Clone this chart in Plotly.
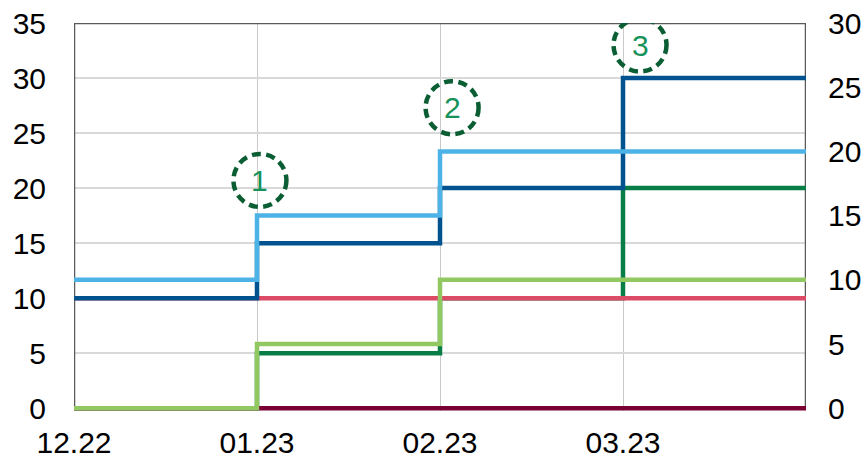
import plotly.graph_objects as go

# ---- data ----
month_labels = ["12.22", "01.23", "02.23", "03.23"]
x_idx = [0, 1, 2, 3, 4]          # month positions (last = end of last step)

red_line = [10, 10, 10, 10, 10]          # left axis
maroon_line = [0, 0, 0, 0, 0]            # left axis
dark_blue = [10, 15, 20, 30, 30]         # left axis
dark_green = [0, 5, 10, 20, 20]          # left axis
light_blue = [10, 15, 20, 20, 20]        # right axis
light_green = [0, 5, 10, 10, 10]         # right axis

left_ticks = [0, 5, 10, 15, 20, 25, 30, 35]
right_ticks = [0, 5, 10, 15, 20, 25, 30]

markers = ["1", "2", "3"]
marker_x = [1.016, 2.066, 3.093]
marker_y = [20.7, 27.3, 33.0]

# ---- styles ----
C_RED = "#dc4b66"
C_MAROON = "#7a0033"
C_DBLUE = "#00538f"
C_LBLUE = "#4db2e6"
C_DGREEN = "#087d46"
C_LGREEN = "#92c862"
FONT = "Liberation Sans, Arial, sans-serif"
LW = 4.5
FS = 30

fig = go.Figure()

def add(y, color, axis="y"):
    fig.add_trace(go.Scatter(x=x_idx, y=y, mode="lines", line=dict(color=color, width=LW, shape="hv"),
                             yaxis=axis, showlegend=False, hoverinfo="skip"))

add(dark_green, C_DGREEN)
add(red_line, C_RED)
add(dark_blue, C_DBLUE)
add(maroon_line, C_MAROON)
add(light_blue, C_LBLUE, "y2")
add(light_green, C_LGREEN, "y2")

ymin = -0.25
fig.update_layout(
    width=864, height=455,
    margin=dict(l=74, r=58, t=23, b=44),
    paper_bgcolor="white", plot_bgcolor="white",
    font=dict(family=FONT, size=FS, color="#000000"),
    xaxis=dict(range=[0, 4], tickvals=[0, 1, 2, 3], ticktext=month_labels, automargin=False,
               showgrid=True, gridcolor="#c9c9c9", gridwidth=1, zeroline=False,
               showline=False, ticks="outside", ticklen=5, tickcolor="rgba(0,0,0,0)",
               tickfont=dict(size=FS), ticklabeloverflow="allow"),
    yaxis=dict(range=[ymin, 35], tickvals=left_ticks, showgrid=True, gridcolor="#d9d9d9",
               gridwidth=1.5, zeroline=False, showline=False, automargin=False,
               ticks="outside", ticklen=21, tickcolor="rgba(0,0,0,0)", tickfont=dict(size=FS),
               ticklabeloverflow="allow"),
    yaxis2=dict(range=[ymin * 30 / 35, 30], tickvals=right_ticks, overlaying="y", side="right",
                showgrid=False, zeroline=False, showline=False, automargin=False,
                ticks="outside", ticklen=15, tickcolor="rgba(0,0,0,0)", tickfont=dict(size=FS),
                ticklabeloverflow="allow"),
)

# frame
fig.add_shape(type="rect", xref="x", yref="y", x0=0, x1=4, y0=0, y1=35,
              line=dict(color="#5a5a5a", width=2.5), layer="between")

# numbered dashed circles
for lab, mx, my in zip(markers, marker_x, marker_y):
    fig.add_shape(type="circle", xref="x", yref="y", xsizemode="pixel", ysizemode="pixel",
                  xanchor=mx, yanchor=my, x0=-26.5, x1=26.5, y0=-26.5, y1=26.5,
                  line=dict(color="#0b5e34", width=4.5, dash="9px,5.5px"), layer="above")
    fig.add_annotation(x=mx, y=my, xref="x", yref="y", text=lab, showarrow=False,
                       font=dict(family=FONT, size=FS, color="#17925a"))

fig.write_html("out.html", config={"displayModeBar": False},
               post_script="document.body.style.margin='0';document.body.style.overflow='hidden';")
